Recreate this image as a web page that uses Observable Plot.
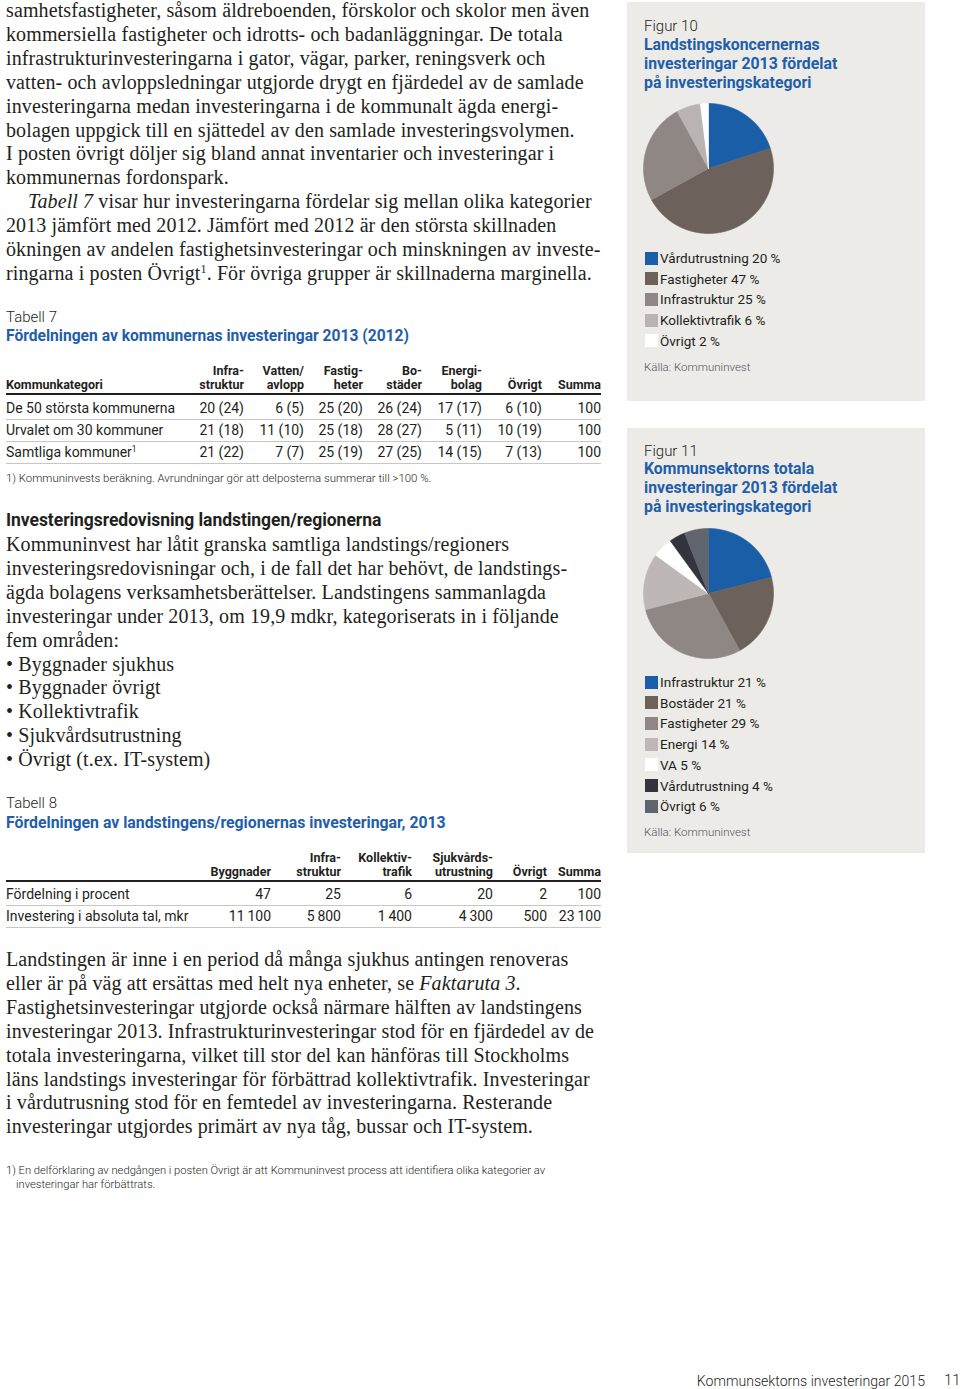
<!DOCTYPE html>
<html><head><meta charset="utf-8">
<script src="https://cdn.jsdelivr.net/npm/d3@7"></script>
<script src="https://cdn.jsdelivr.net/npm/@observablehq/plot@0.6"></script>
<style>
html,body{margin:0;padding:0;background:#fff;}
body{width:960px;height:1389px;position:relative;overflow:hidden;color:#231f20;}
.abs{position:absolute;}
.serif{font-family:"Liberation Serif","Times New Roman",serif;font-size:20px;letter-spacing:0.12px;line-height:23.9px;white-space:nowrap;}
.sans{font-family:Roboto,"Open Sans",sans-serif;white-space:nowrap;}
.panel{background:#ecebe8;}
.lbl{font-family:Roboto,sans-serif;font-weight:300;font-size:15px;line-height:19px;white-space:nowrap;}
.ttl{font-family:Roboto,sans-serif;font-weight:700;font-size:15.8px;line-height:19px;color:#1f5ea8;white-space:nowrap;}
sup{font-size:60%;line-height:0;vertical-align:0.6em;}
</style></head><body>

<div class="abs serif" style="left:6px;top:-1px;">
samhetsfastigheter, såsom äldreboenden, förskolor och skolor men även<br>
kommersiella fastigheter och idrotts- och badanläggningar. De totala<br>
infrastrukturinvesteringarna i gator, vägar, parker, reningsverk och<br>
vatten- och avloppsledningar utgjorde drygt en fjärdedel av de samlade<br>
investeringarna medan investeringarna i de kommunalt ägda energi-<br>
bolagen uppgick till en sjättedel av den samlade investeringsvolymen.<br>
I posten övrigt döljer sig bland annat inventarier och investeringar i<br>
kommunernas fordonspark.<br>
<span style="padding-left:22px"><i>Tabell 7</i> visar hur investeringarna fördelar sig mellan olika kategorier</span><br>
2013 jämfört med 2012. Jämfört med 2012 är den största skillnaden<br>
ökningen av andelen fastighetsinvesteringar och minskningen av investe-<br>
ringarna i posten Övrigt<sup>1</sup>. För övriga grupper är skillnaderna marginella.
</div>

<div class="abs lbl" style="left:6px;top:308px;">Tabell 7</div>
<div class="abs ttl" style="left:6px;top:327px;font-size:15.6px;">Fördelningen av kommunernas investeringar 2013 (2012)</div>
<div id="tab7"></div>
<div class="abs sans" style="left:6px;top:471px;font-size:11.4px;font-weight:300;line-height:14px;">1) Kommuninvests beräkning. Avrundningar gör att delposterna summerar till &gt;100 %.</div>

<div class="abs sans" style="left:6px;top:510px;font-size:17.5px;font-weight:700;line-height:20px;letter-spacing:-0.05px;">Investeringsredovisning landstingen/regionerna</div>
<div class="abs serif" style="left:6px;top:533px;">
Kommuninvest har låtit granska samtliga landstings/regioners<br>
investeringsredovisningar och, i de fall det har behövt, de landstings-<br>
ägda bolagens verksamhetsberättelser. Landstingens sammanlagda<br>
investeringar under 2013, om 19,9 mdkr, kategoriserats in i följande<br>
fem områden:<br>
• Byggnader sjukhus<br>
• Byggnader övrigt<br>
• Kollektivtrafik<br>
• Sjukvårdsutrustning<br>
• Övrigt (t.ex. IT-system)
</div>

<div class="abs lbl" style="left:6px;top:794px;">Tabell 8</div>
<div class="abs ttl" style="left:6px;top:813px;">Fördelningen av landstingens/regionernas investeringar, 2013</div>
<div id="tab8"></div>

<div class="abs serif" style="left:6px;top:948px;">
Landstingen är inne i en period då många sjukhus antingen renoveras<br>
eller är på väg att ersättas med helt nya enheter, se <i>Faktaruta 3</i>.<br>
Fastighetsinvesteringar utgjorde också närmare hälften av landstingens<br>
investeringar 2013. Infrastrukturinvesteringar stod för en fjärdedel av de<br>
totala investeringarna, vilket till stor del kan hänföras till Stockholms<br>
läns landstings investeringar för förbättrad kollektivtrafik. Investeringar<br>
i vårdutrusning stod för en femtedel av investeringarna. Resterande<br>
investeringar utgjordes primärt av nya tåg, bussar och IT-system.
</div>

<div class="abs sans" style="left:6px;top:1164px;font-size:11.2px;font-weight:300;line-height:14px;">1) En delförklaring av nedgången i posten Övrigt är att Kommuninvest process att identifiera olika kategorier av<br><span style="padding-left:10px">investeringar har förbättrats.</span></div>

<div class="abs sans" style="right:35px;top:1371px;font-size:14.1px;font-weight:300;line-height:20px;">Kommunsektorns investeringar 2015</div>
<div class="abs sans" style="left:944px;top:1370px;font-size:15px;font-weight:300;line-height:20px;">11</div>

<div class="abs panel" style="left:627px;top:2px;width:298px;height:399px;"></div>
<div class="abs lbl" style="left:644px;top:17px;">Figur 10</div>
<div class="abs ttl" style="left:644px;top:35px;">Landstingskoncernernas<br>investeringar 2013 fördelat<br>på investeringskategori</div>
<div id="pie10" class="abs" style="left:642px;top:102px;"></div>
<div id="leg10"></div>
<div class="abs sans" style="left:644px;top:360px;font-size:11.5px;font-weight:300;color:#555;line-height:14px;">Källa: Kommuninvest</div>

<div class="abs panel" style="left:627px;top:428px;width:298px;height:425px;"></div>
<div class="abs lbl" style="left:644px;top:442px;">Figur 11</div>
<div class="abs ttl" style="left:644px;top:459px;">Kommunsektorns totala<br>investeringar 2013 fördelat<br>på investeringskategori</div>
<div id="pie11" class="abs" style="left:642px;top:527px;"></div>
<div id="leg11"></div>
<div class="abs sans" style="left:644px;top:825px;font-size:11.5px;font-weight:300;color:#555;line-height:14px;">Källa: Kommuninvest</div>

<script>
// ---------- data ----------
const fig10Categories = ["Vårdutrustning", "Fastigheter", "Infrastruktur", "Kollektivtrafik", "Övrigt"];
const fig10Values = [20, 47, 25, 6, 2];
const fig10Colors = ["#1b5ea8", "#6d615b", "#8f8784", "#b9b4b1", "#ffffff"];

const fig11Categories = ["Infrastruktur", "Bostäder", "Fastigheter", "Energi", "VA", "Vårdutrustning", "Övrigt"];
const fig11Values = [21, 21, 29, 14, 5, 4, 6];
const fig11Colors = ["#1b5ea8", "#6d615b", "#8f8784", "#bdb8b5", "#ffffff", "#34343c", "#60646c"];

const tab7Rows = ["De 50 största kommunerna", "Urvalet om 30 kommuner", "Samtliga kommuner"];
const tab7RowNotes = ["", "", "1"];
const tab7Headers = [["Infra-", "struktur"], ["Vatten/", "avlopp"], ["Fastig-", "heter"], ["Bo-", "städer"], ["Energi-", "bolag"], ["", "Övrigt"], ["", "Summa"]];
const tab7Values2013 = [[20, 6, 25, 26, 17, 6, 100], [21, 11, 25, 28, 5, 10, 100], [21, 7, 25, 27, 14, 7, 100]];
const tab7Values2012 = [[24, 5, 20, 24, 17, 10, null], [18, 10, 18, 27, 11, 19, null], [22, 7, 19, 25, 15, 13, null]];

const tab8Headers = [["", "Byggnader"], ["Infra-", "struktur"], ["Kollektiv-", "trafik"], ["Sjukvårds-", "utrustning"], ["", "Övrigt"], ["", "Summa"]];
const tab8Rows = ["Fördelning i procent", "Investering i absoluta tal, mkr"];
const tab8Percent = [47, 25, 6, 20, 2, 100];
const tab8Mkr = [11100, 5800, 1400, 4300, 500, 23100];

// ---------- helpers ----------
function put(parent, html, st) {
  const d = document.createElement("div");
  d.className = "abs sans";
  d.innerHTML = html;
  Object.assign(d.style, st);
  parent.appendChild(d);
  return d;
}
function cellR(parent, xr, cy, html, size, weight) {
  const lh = 16;
  return put(parent, html, {left: (xr - 160) + "px", width: "160px", textAlign: "right", top: (cy - lh / 2) + "px",
    lineHeight: lh + "px", fontSize: size + "px", fontWeight: weight});
}
function rule(parent, x0, x1, y, h, color) {
  const d = document.createElement("div");
  d.className = "abs";
  Object.assign(d.style, {left: x0 + "px", top: y + "px", width: (x1 - x0) + "px", height: h + "px", background: color});
  parent.appendChild(d);
}
const fmt = v => d3.format(",")(v).replace(/,/g, "\u2009");

// ---------- Tabell 7 ----------
{
  const host = document.getElementById("tab7");
  const cols = [244, 304, 363, 422, 482, 542, 601];
  const h1 = 371, h2 = 385, rows = [408, 430, 452];
  put(host, "Kommunkategori", {left: "6px", top: (h2 - 8) + "px", lineHeight: "16px", fontSize: "12.5px", fontWeight: 700});
  tab7Headers.forEach((h, j) => {
    cellR(host, cols[j], h1, h[0], 12.5, 700);
    cellR(host, cols[j], h2, h[1], 12.5, 700);
  });
  rule(host, 6, 601, 393, 2, "#231f20");
  tab7Rows.forEach((r, i) => {
    put(host, r + (tab7RowNotes[i] ? "<sup>" + tab7RowNotes[i] + "</sup>" : ""),
      {left: "6px", top: (rows[i] - 8) + "px", lineHeight: "16px", fontSize: "14px", fontWeight: 400});
    tab7Values2013[i].forEach((v, j) => {
      const p = tab7Values2012[i][j];
      cellR(host, cols[j], rows[i], v + (p == null ? "" : " (" + p + ")"), 14, 400);
    });
    rule(host, 6, 601, rows[i] + 11, 1, "#c9c6c3");
  });
}

// ---------- Tabell 8 ----------
{
  const host = document.getElementById("tab8");
  const cols = [271, 341, 412, 493, 547, 601];
  const h1 = 858, h2 = 872, rows = [894, 916];
  tab8Headers.forEach((h, j) => {
    cellR(host, cols[j], h1, h[0], 12.5, 700);
    cellR(host, cols[j], h2, h[1], 12.5, 700);
  });
  rule(host, 6, 601, 880, 2, "#231f20");
  const vals = [tab8Percent, tab8Mkr];
  tab8Rows.forEach((r, i) => {
    put(host, r, {left: "6px", top: (rows[i] - 8) + "px", lineHeight: "16px", fontSize: "14px", fontWeight: 400});
    vals[i].forEach((v, j) => cellR(host, cols[j], rows[i], fmt(v), 14, 400));
    rule(host, 6, 601, rows[i] + 11, 1, "#c9c6c3");
  });
}

// ---------- pies ----------
function pie(cats, vals, colors) {
  const total = d3.sum(vals);
  const pts = [];
  let acc = 0;
  cats.forEach((c, i) => {
    const a0 = acc / total * 2 * Math.PI;
    acc += vals[i];
    const a1 = acc / total * 2 * Math.PI;
    const n = Math.max(2, Math.ceil((a1 - a0) / (Math.PI / 180)));
    pts.push({slice: c, x: 0, y: 0});
    for (let k = 0; k <= n; k++) {
      const a = a0 + (a1 - a0) * k / n;
      pts.push({slice: c, x: Math.sin(a), y: Math.cos(a)});
    }
    pts.push({slice: c, x: 0, y: 0});
  });
  return Plot.plot({
    width: 132, height: 132, margin: 1,
    style: {background: "transparent", overflow: "visible"},
    x: {domain: [-1, 1], axis: null},
    y: {domain: [-1, 1], axis: null},
    color: {type: "ordinal", domain: cats, range: colors},
    marks: [Plot.line(pts, {x: "x", y: "y", z: "slice", fill: "slice", stroke: "slice", strokeWidth: 0.6, curve: "linear"})]
  });
}
document.getElementById("pie10").appendChild(pie(fig10Categories, fig10Values, fig10Colors));
document.getElementById("pie11").appendChild(pie(fig11Categories, fig11Values, fig11Colors));

// ---------- legends ----------
function legend(hostId, cats, vals, colors, y0, dy) {
  const host = document.getElementById(hostId);
  cats.forEach((c, i) => {
    const cy = y0 + i * dy;
    const sw = document.createElement("div");
    sw.className = "abs";
    Object.assign(sw.style, {left: "645px", top: (cy - 6.5) + "px", width: "13px", height: "13px", background: colors[i]});
    host.appendChild(sw);
    put(host, c + " " + vals[i] + " %", {left: "660px", top: (cy - 9) + "px", lineHeight: "18px", fontSize: "13.5px", fontWeight: 400});
  });
}
legend("leg10", fig10Categories, fig10Values, fig10Colors, 258, 20.7);
legend("leg11", fig11Categories, fig11Values, fig11Colors, 682, 20.7);
</script>
</body></html>
